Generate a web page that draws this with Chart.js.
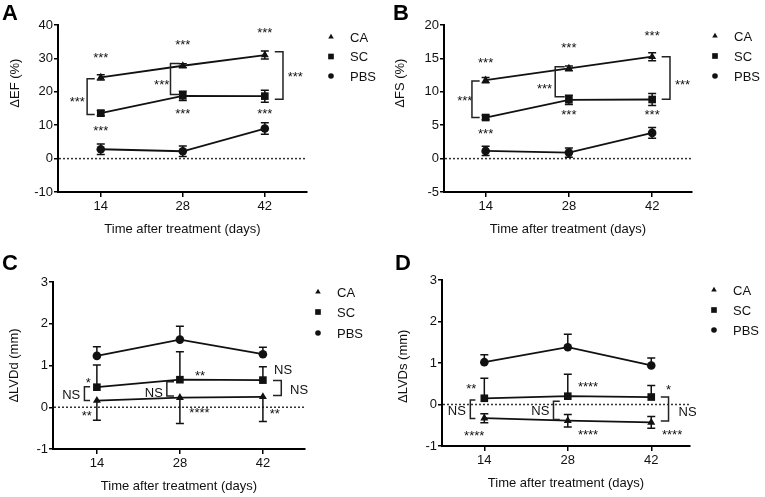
<!DOCTYPE html>
<html>
<head>
<meta charset="utf-8">
<script src="https://cdn.jsdelivr.net/npm/chart.js@4.4.1/dist/chart.umd.min.js"></script>
<style>
  body { margin: 0; background: #fff; width: 765px; height: 497px; position: relative; overflow: hidden;
         font-family: "Liberation Sans", Arial, sans-serif; }
  .panel { position: absolute; }
  .letter { position: absolute; font-weight: bold; font-size: 22px; line-height: 22px; color: #000; }
</style>
</head>
<body>
<div class="panel" style="left:0;top:0;width:390px;height:248px"><canvas id="chartA"></canvas></div>
<div class="panel" style="left:390px;top:0;width:375px;height:248px"><canvas id="chartB"></canvas></div>
<div class="panel" style="left:0;top:248px;width:390px;height:249px"><canvas id="chartC"></canvas></div>
<div class="panel" style="left:390px;top:248px;width:375px;height:249px"><canvas id="chartD"></canvas></div>
<div class="letter" style="left:2px;top:2px">A</div>
<div class="letter" style="left:393px;top:2px">B</div>
<div class="letter" style="left:2px;top:252px">C</div>
<div class="letter" style="left:395px;top:252px">D</div>

<script>
// ---- data ----
const days = [14, 28, 42];
const groups = ['CA', 'SC', 'PBS'];
const markers = ['triangle', 'rect', 'circle'];

// A: ΔEF (%)
const efCA = [24.3, 27.8, 31.0];
const efSC = [13.6, 18.8, 18.7];
const efPBS = [2.8, 2.2, 9.0];
const efErrCA = [0.8, 0.6, 1.2];
const efErrSC = [0.8, 1.4, 1.8];
const efErrPBS = [1.6, 1.6, 1.7];

// B: ΔFS (%)
const fsCA = [11.75, 13.5, 15.25];
const fsSC = [6.15, 8.8, 8.85];
const fsPBS = [1.15, 0.9, 3.85];
const fsErrCA = [0.4, 0.35, 0.6];
const fsErrSC = [0.35, 0.7, 0.9];
const fsErrPBS = [0.7, 0.7, 0.8];

// C: ΔLVDd (mm)
const lvddCA = [0.16, 0.23, 0.25];
const lvddSC = [0.48, 0.66, 0.65];
const lvddPBS = [1.23, 1.62, 1.27];
const lvddErrCA = [0.47, 0.62, 0.59];
const lvddErrSC = [0.53, 0.67, 0.32];
const lvddErrPBS = [0.22, 0.32, 0.17];

// D: ΔLVDs (mm)
const lvdsCA = [-0.33, -0.39, -0.43];
const lvdsSC = [0.15, 0.2, 0.18];
const lvdsPBS = [1.02, 1.38, 0.94];
const lvdsErrCA = [0.11, 0.15, 0.14];
const lvdsErrSC = [0.48, 0.53, 0.28];
const lvdsErrPBS = [0.18, 0.31, 0.18];

// significance marks [text, day, value]
const efNotes = [['***', 14, 31.2], ['***', 28, 35], ['***', 42, 38.7], ['***', 14, 9.2], ['***', 28, 14.5],
  ['***', 42, 14.5], ['***', 10.0, 18], ['***', 24.4, 23.2], ['***', 47.2, 25.5]];
const fsNotes = [['***', 14, 14.85], ['***', 28, 17.1], ['***', 42, 18.9], ['***', 14, 4.25], ['***', 28, 7],
  ['***', 42, 7], ['***', 10.5, 9.1], ['***', 23.9, 11], ['***', 47.1, 11.6]];
const lvddNotes = [['*', 12.55, 0.66], ['NS', 9.67, 0.3], ['**', 12.3, -0.14], ['NS', 23.6, 0.35], ['**', 31.4, 0.84],
  ['****', 31.3, -0.05], ['NS', 45.4, 0.9], ['NS', 48.1, 0.42], ['**', 44, -0.08]];
const lvdsNotes = [['**', 11.8, 0.46], ['NS', 9.4, -0.15], ['****', 12.3, -0.67], ['****', 31.4, 0.51], ['NS', 23.4, -0.15],
  ['****', 31.4, -0.65], ['*', 44.9, 0.42], ['NS', 48.1, -0.16], ['****', 45.5, -0.65]];

// brackets [x, xEnd, yTop, yBottom]
const efBrackets = [[11.67, 12.97, 23.9, 13.2], [25.9, 27.5, 28.5, 19.2], [45.1, 43.7, 32, 17.8]];
const fsBrackets = [[11.7, 13, 11.6, 6.15], [25.7, 27.3, 13.75, 9.25], [45, 43.6, 15.25, 8.9]];
const lvddBrackets = [[11.9, 12.85, 0.49, 0.16], [25.8, 27, 0.61, 0.27], [45.1, 43.7, 0.64, 0.28]];
const lvdsBrackets = [[11.65, 12.5, 0.11, -0.34], [25.6, 26.65, 0.08, -0.36], [44.9, 43.6, 0.18, -0.4]];

const FONT = '"Liberation Sans", Arial, sans-serif';
const INK = '#111';

/* ================= custom drawing ================= */
const extras = {
  id: 'extras',
  beforeDatasetsDraw(chart, args, p) {
    const { ctx, chartArea: a, scales: { x, y } } = chart;
    ctx.save();
    // dotted zero line
    const y0 = y.getPixelForValue(0);
    ctx.setLineDash([2, 2]);
    ctx.lineWidth = 1.5;
    ctx.strokeStyle = '#333';
    ctx.beginPath(); ctx.moveTo(a.left + 1, y0); ctx.lineTo(a.right, y0); ctx.stroke();
    ctx.setLineDash([]);

    // error bars
    ctx.strokeStyle = INK;
    ctx.lineWidth = 1.5;
    p.series.forEach((vals, i) => {
      const err = p.errors[i], dir = p.errDir[i];
      days.forEach((d, j) => {
        const px = x.getPixelForValue(d);
        const ends = [];
        if (dir !== 'down') ends.push(y.getPixelForValue(vals[j] + err[j]));
        if (dir !== 'up') ends.push(y.getPixelForValue(vals[j] - err[j]));
        const mid = y.getPixelForValue(vals[j]);
        ends.forEach(e => {
          ctx.beginPath();
          ctx.moveTo(px, mid); ctx.lineTo(px, e);
          ctx.moveTo(px - 4, e); ctx.lineTo(px + 4, e);
          ctx.stroke();
        });
      });
    });
    ctx.restore();
  },
  afterDraw(chart, args, p) {
    const { ctx, chartArea: a, scales: { x, y } } = chart;
    ctx.save();
    // brackets
    ctx.strokeStyle = '#222';
    ctx.lineWidth = 1.5;
    p.brackets.forEach(([bx, bx2, t, b]) => {
      const x1 = x.getPixelForValue(bx), x2 = x.getPixelForValue(bx2);
      const yt = y.getPixelForValue(t), yb = y.getPixelForValue(b);
      ctx.beginPath();
      ctx.moveTo(x2, yt); ctx.lineTo(x1, yt); ctx.lineTo(x1, yb); ctx.lineTo(x2, yb);
      ctx.stroke();
    });
    // significance text
    ctx.fillStyle = INK;
    ctx.font = '13px ' + FONT;
    ctx.textAlign = 'center';
    ctx.textBaseline = 'alphabetic';
    p.notes.forEach(([t, nx, ny]) => {
      const shift = t.startsWith('*') ? 7.4 : 4.7;
      ctx.fillText(t, x.getPixelForValue(nx), y.getPixelForValue(ny) + shift);
    });
    // y title
    ctx.save();
    ctx.translate(p.yTitleX, y.getPixelForValue(p.yTitleAt));
    ctx.rotate(-Math.PI / 2);
    ctx.textBaseline = 'middle';
    ctx.fillText(p.yTitle, 0, 0);
    ctx.restore();
    // legend
    ctx.textAlign = 'left';
    ctx.textBaseline = 'middle';
    groups.forEach((g, i) => {
      const ly = p.legendY[i];
      Chart.helpers.drawPoint(ctx, { pointStyle: markers[i], radius: [3.2, 4, 2.8][i], rotation: 0, borderWidth: 0 },
        p.legendX, ly);
      ctx.fillText(g, p.legendX + 19, ly + 1);
    });
    ctx.restore();
  }
};
Chart.register(extras);

function makePanel(id, cfg, lay) {
  return new Chart(document.getElementById(id), {
    type: 'line',
    data: {
      datasets: cfg.series.map((s, i) => ({
        label: groups[i],
        data: days.map((d, j) => ({ x: d, y: s[j] })),
        borderColor: INK,
        backgroundColor: INK,
        borderWidth: 1.8,
        pointStyle: markers[i],
        pointRadius: [4.6, 5.4, 4.3][i],
        pointBorderWidth: 0,
        tension: 0
      }))
    },
    options: {
      responsive: true,
      maintainAspectRatio: false,
      animation: false,
      layout: { padding: { left: 0, top: lay.top, right: lay.right, bottom: lay.bottom } },
      plugins: {
        legend: { display: false },
        tooltip: { enabled: false },
        extras: {
          series: cfg.series, errors: cfg.errors, errDir: cfg.errDir,
          notes: cfg.notes, brackets: cfg.brackets,
          yTitle: cfg.yTitle, yTitleAt: cfg.yTitleAt, yTitleX: lay.titleX,
          legendX: lay.legendX, legendY: lay.legendY
        }
      },
      scales: {
        x: {
          type: 'linear', min: cfg.xMin, max: cfg.xMax,
          afterBuildTicks: s => { s.ticks = days.map(v => ({ value: v })); },
          afterFit: s => { s.height = 45; },
          border: { color: '#000', width: 2 },
          grid: { drawOnChartArea: false, drawTicks: true, tickLength: 5, color: '#000', lineWidth: 1.5 },
          ticks: { color: INK, font: { family: FONT, size: 13 }, padding: 2, maxRotation: 0 },
          title: { display: true, text: 'Time after treatment (days)', color: INK,
                   font: { family: FONT, size: 13 }, padding: { top: 0, bottom: 0 } }
        },
        y: {
          min: cfg.yMin, max: cfg.yMax,
          afterFit: s => { s.width = lay.left; },
          border: { color: '#000', width: 2 },
          grid: { drawOnChartArea: false, drawTicks: true, tickLength: 4, color: '#000', lineWidth: 1.5 },
          ticks: { stepSize: cfg.yStep, color: INK, font: { family: FONT, size: 13 }, padding: 1 }
        }
      }
    }
  });
}

makePanel('chartA', {
  series: [efCA, efSC, efPBS], errors: [efErrCA, efErrSC, efErrPBS], errDir: ['both', 'both', 'both'],
  notes: efNotes, brackets: efBrackets, yTitle: 'ΔEF (%)', yTitleAt: 22.6,
  xMin: 6.7, xMax: 49.2, yMin: -10, yMax: 40, yStep: 10
}, { left: 58, top: 25, right: 83, bottom: 11, titleX: 15, legendX: 331, legendY: [37, 56.5, 76] });

makePanel('chartB', {
  series: [fsCA, fsSC, fsPBS], errors: [fsErrCA, fsErrSC, fsErrPBS], errDir: ['both', 'both', 'both'],
  notes: fsNotes, brackets: fsBrackets, yTitle: 'ΔFS (%)', yTitleAt: 11.3,
  xMin: 7, xMax: 48.7, yMin: -5, yMax: 20, yStep: 5
}, { left: 54, top: 25, right: 73, bottom: 11, titleX: 10, legendX: 325, legendY: [36, 56, 76] });

makePanel('chartC', {
  series: [lvddCA, lvddSC, lvddPBS], errors: [lvddErrCA, lvddErrSC, lvddErrPBS], errDir: ['down', 'up', 'up'],
  notes: lvddNotes, brackets: lvddBrackets, yTitle: 'ΔLVDd (mm)', yTitleAt: 1,
  xMin: 6.6, xMax: 49.1, yMin: -1, yMax: 3, yStep: 1
}, { left: 53, top: 34, right: 85, bottom: 3, titleX: 14, legendX: 318, legendY: [44, 64, 85] });

makePanel('chartD', {
  series: [lvdsCA, lvdsSC, lvdsPBS], errors: [lvdsErrCA, lvdsErrSC, lvdsErrPBS], errDir: ['both', 'up', 'up'],
  notes: lvdsNotes, brackets: lvdsBrackets, yTitle: 'ΔLVDs (mm)', yTitleAt: 0.92,
  xMin: 6.9, xMax: 48.5, yMin: -1, yMax: 3, yStep: 1
}, { left: 52, top: 32, right: 75, bottom: 6, titleX: 13, legendX: 324, legendY: [42, 62, 82] });
</script>
</body>
</html>
